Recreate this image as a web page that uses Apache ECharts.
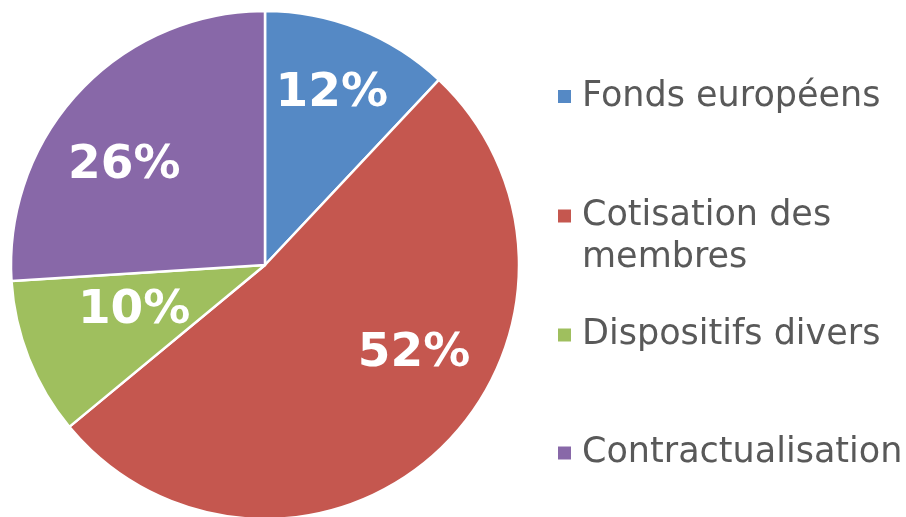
<!DOCTYPE html>
<html>
<head>
<meta charset="utf-8">
<script src="https://cdn.jsdelivr.net/npm/echarts@6/dist/echarts.min.js"></script>
<style>
html,body{margin:0;padding:0;background:#fff;}
#chart{width:906px;height:517px;}
</style>
</head>
<body>
<div id="chart"></div>
<script>
var categories = ['Fonds européens', 'Cotisation des membres', 'Dispositifs divers', 'Contractualisation'];
var values = [12, 52, 10, 26];
var colors = ['#5589C5', '#C5574F', '#9FBF5E', '#8868A8'];
// a leading blank line keeps the first text line level with the marker
var legendLabels = ['Fonds européens', '\nCotisation des\nmembres', 'Dispositifs divers', 'Contractualisation'];

var labelShift = [[19, -50], [60, -6], [-10, -2], [-46, -10]];
var legendTops = [75.5, 153, 314, 432];

var chart = echarts.init(document.getElementById('chart'), null, {renderer: 'canvas'});

var legends = categories.map(function (name, i) {
  return {
    orient: 'vertical',
    left: 556,
    top: legendTops[i],
    padding: 0,
    itemWidth: 15,
    itemHeight: 15,
    icon: 'rect',
    selectedMode: false,
    data: [name],
    formatter: function (n) { return legendLabels[categories.indexOf(n)]; },
    textStyle: {
      fontFamily: 'DejaVu Sans',
      fontSize: 35,
      lineHeight: 42,
      color: '#595959',
      padding: [0, 0, 0, 5]
    }
  };
});

chart.setOption({
  animation: false,
  color: colors,
  legend: legends,
  series: [{
    type: 'pie',
    center: [265, 265],
    radius: [0, 254],
    startAngle: 90,
    clockwise: true,
    avoidLabelOverlap: false,
    itemStyle: {borderColor: '#ffffff', borderWidth: 2.5},
    label: {
      show: true,
      position: 'inside',
      formatter: '{c}%',
      color: '#ffffff',
      fontFamily: 'DejaVu Sans',
      fontWeight: 'bold',
      fontSize: 47
    },
    labelLine: {show: false},
    labelLayout: function (p) {
      var s = labelShift[p.dataIndex];
      return {dx: s[0], dy: s[1]};
    },
    emphasis: {disabled: true},
    data: categories.map(function (c, i) { return {name: c, value: values[i]}; })
  }]
});
</script>
</body>
</html>
